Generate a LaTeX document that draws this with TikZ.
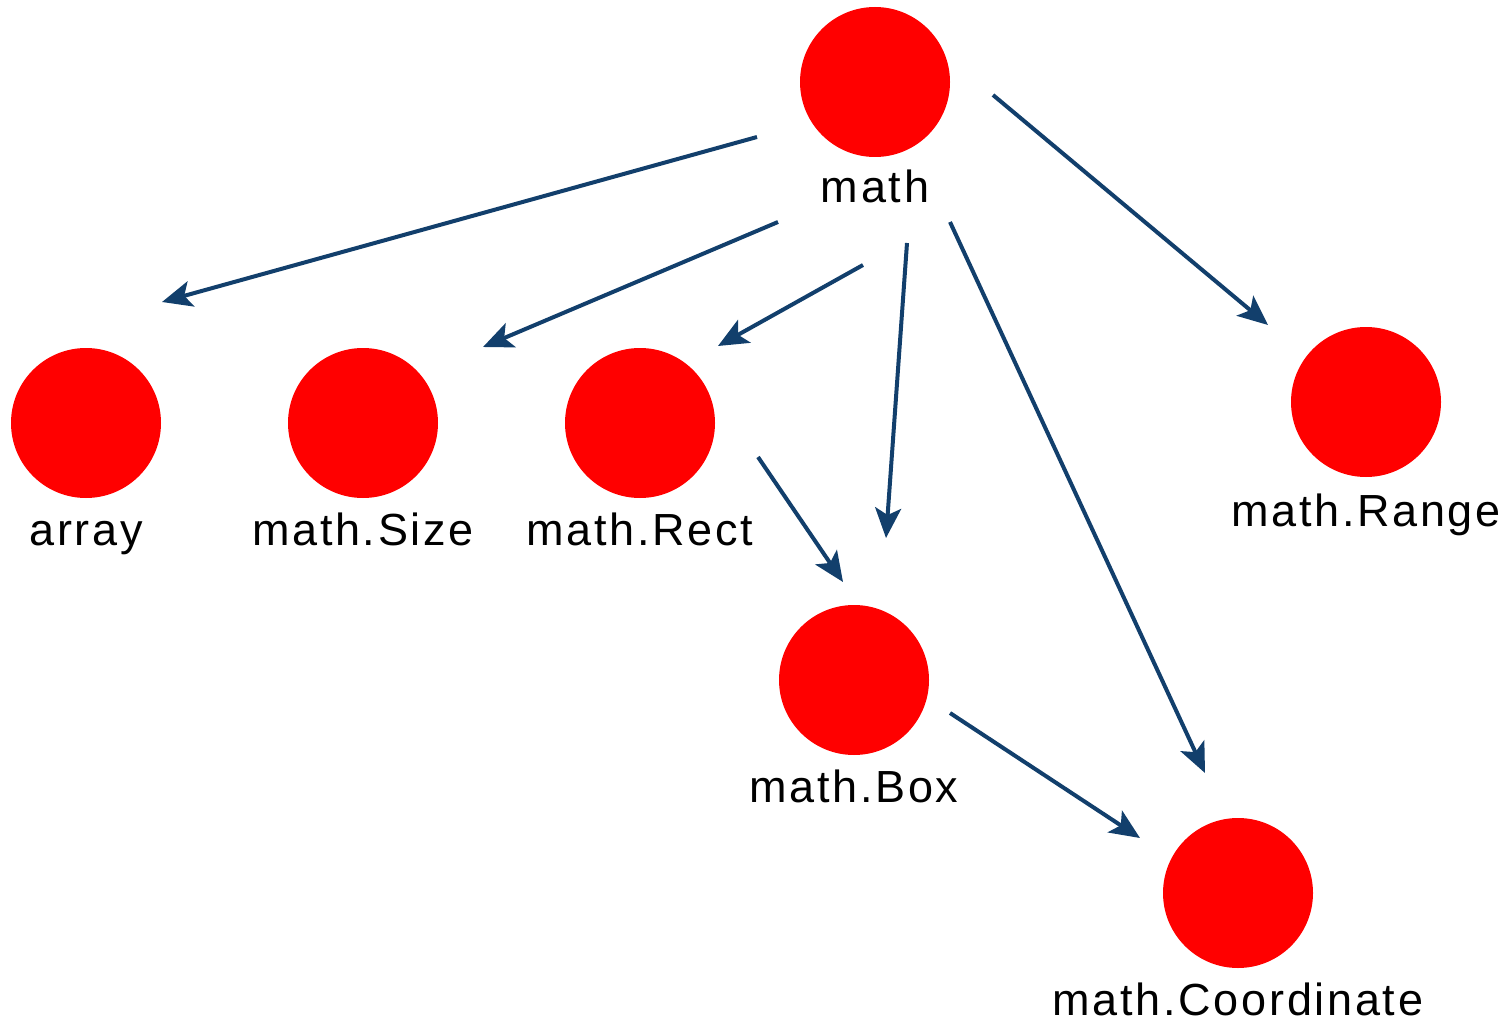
\documentclass[tikz,border=0pt]{standalone}
\usepackage{fontspec}
\setmainfont{Liberation Sans}[LetterSpace=6]
\usetikzlibrary{arrows.meta,calc}
\definecolor{edgeblue}{HTML}{123F6C}
\definecolor{nodered}{HTML}{FF0000}
\begin{document}
\begin{tikzpicture}[x=1pt,y=-1pt,
  dot/.style={circle,fill=nodered,draw=none,minimum size=150pt,inner sep=0pt},
  lbl/.style={anchor=base,inner sep=0pt,font=\fontsize{45}{54}\selectfont},
  edge/.style={draw=edgeblue,line width=4pt,-{Stealth[length=30pt,width=26pt,inset=7pt]}}]
\useasboundingbox (0,0) rectangle (1507,1024);
% nodes
\node[dot] (math) at (875,82) {};
\node[lbl] (mathL) at (875,203) {math};
\node[dot] (array) at (86,423) {};
\node[lbl] (arrayL) at (86,545) {array};
\node[dot] (size) at (363,423) {};
\node[lbl] (sizeL) at (363,545) {math.Size};
\node[dot] (rect) at (640,423) {};
\node[lbl] (rectL) at (640,545) {math.Rect};
\node[dot] (range) at (1366,402) {};
\node[lbl] (rangeL) at (1366,526) {math.Range};
\node[dot] (box) at (854,680) {};
\node[lbl] (boxL) at (854,802) {math.Box};
\node[dot] (coord) at (1238,893) {};
\node[lbl] (coordL) at (1238,1015) {math.Coordinate};
% edge end points
\coordinate (a1) at ($(math)+(-118,55)$);  \coordinate (b1) at ($(array)+(76,-121)$);
\coordinate (a2) at ($(math)+(-97,140)$);  \coordinate (b2) at ($(size)+(120,-76)$);
\coordinate (a3) at ($(math)+(-12,183)$);  \coordinate (b3) at ($(rect)+(78,-77)$);
\coordinate (a4) at ($(math)+(32,161)$);   \coordinate (b4) at ($(box)+(32,-142)$);
\coordinate (a5) at ($(math)+(75,140)$);   \coordinate (b5) at ($(coord)+(-33,-120)$);
\coordinate (a6) at ($(math)+(118,13)$);   \coordinate (b6) at ($(range)+(-98,-77)$);
\coordinate (a7) at ($(rect)+(118,34)$);   \coordinate (b7) at ($(box)+(-11,-98)$);
\coordinate (a8) at ($(box)+(96,33)$);     \coordinate (b8) at ($(coord)+(-98,-55)$);
% edges
\draw[edge] (a1) -- (b1);
\draw[edge] (a2) -- (b2);
\draw[edge] (a3) -- (b3);
\draw[edge] (a4) -- (b4);
\draw[edge] (a5) -- (b5);
\draw[edge] (a6) -- (b6);
\draw[edge] (a7) -- (b7);
\draw[edge] (a8) -- (b8);
\end{tikzpicture}
\end{document}
